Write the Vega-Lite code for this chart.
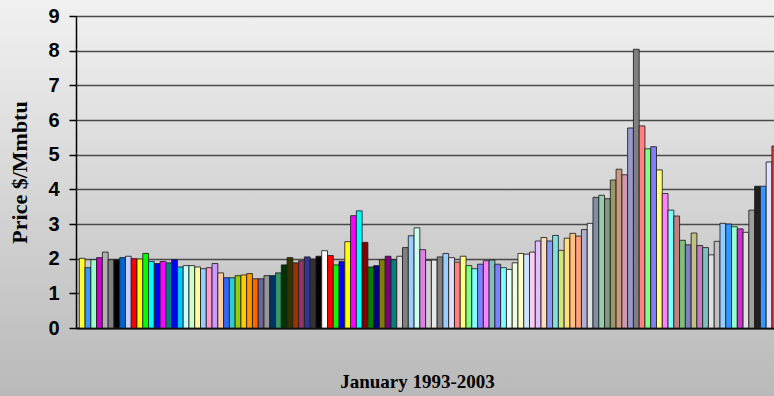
{
  "$schema": "https://vega.github.io/schema/vega-lite/v6.json",
  "width": 774,
  "height": 396,
  "autosize": "none",
  "padding": 0,
  "background": "#d4d4d4",
  "config": {
    "view": {
      "stroke": null,
      "fill": {"gradient": "linear", "x1": 0, "y1": 0, "x2": 0, "y2": 1,
        "stops": [{"offset": 0, "color": "#f1f1f1"}, {"offset": 1, "color": "#b9b9b9"}]}
    }
  },
  "data": {"values": [
    {"m":"1993-01","p":2.01},{"m":"1993-02","p":1.74},{"m":"1993-03","p":1.97},{"m":"1993-04","p":2.03},{"m":"1993-05","p":2.19},{"m":"1993-06","p":1.97},{"m":"1993-07","p":1.97},{"m":"1993-08","p":2.03},{"m":"1993-09","p":2.07},{"m":"1993-10","p":2.00},{"m":"1993-11","p":1.99},{"m":"1993-12","p":2.15},
    {"m":"1994-01","p":1.92},{"m":"1994-02","p":1.86},{"m":"1994-03","p":1.92},{"m":"1994-04","p":1.88},{"m":"1994-05","p":1.97},{"m":"1994-06","p":1.76},{"m":"1994-07","p":1.80},{"m":"1994-08","p":1.80},{"m":"1994-09","p":1.76},{"m":"1994-10","p":1.71},{"m":"1994-11","p":1.74},{"m":"1994-12","p":1.86},
    {"m":"1995-01","p":1.59},{"m":"1995-02","p":1.45},{"m":"1995-03","p":1.45},{"m":"1995-04","p":1.51},{"m":"1995-05","p":1.53},{"m":"1995-06","p":1.57},{"m":"1995-07","p":1.42},{"m":"1995-08","p":1.42},{"m":"1995-09","p":1.51},{"m":"1995-10","p":1.51},{"m":"1995-11","p":1.59},{"m":"1995-12","p":1.82},
    {"m":"1996-01","p":2.03},{"m":"1996-02","p":1.88},{"m":"1996-03","p":1.94},{"m":"1996-04","p":2.05},{"m":"1996-05","p":1.99},{"m":"1996-06","p":2.07},{"m":"1996-07","p":2.23},{"m":"1996-08","p":2.09},{"m":"1996-09","p":1.82},{"m":"1996-10","p":1.92},{"m":"1996-11","p":2.49},{"m":"1996-12","p":3.24},
    {"m":"1997-01","p":3.38},{"m":"1997-02","p":2.47},{"m":"1997-03","p":1.76},{"m":"1997-04","p":1.80},{"m":"1997-05","p":1.97},{"m":"1997-06","p":2.07},{"m":"1997-07","p":1.97},{"m":"1997-08","p":2.07},{"m":"1997-09","p":2.32},{"m":"1997-10","p":2.66},{"m":"1997-11","p":2.89},{"m":"1997-12","p":2.26},
    {"m":"1998-01","p":1.95},{"m":"1998-02","p":1.96},{"m":"1998-03","p":2.05},{"m":"1998-04","p":2.15},{"m":"1998-05","p":2.03},{"m":"1998-06","p":1.90},{"m":"1998-07","p":2.07},{"m":"1998-08","p":1.80},{"m":"1998-09","p":1.71},{"m":"1998-10","p":1.84},{"m":"1998-11","p":1.94},{"m":"1998-12","p":1.96},
    {"m":"1999-01","p":1.84},{"m":"1999-02","p":1.74},{"m":"1999-03","p":1.69},{"m":"1999-04","p":1.88},{"m":"1999-05","p":2.15},{"m":"1999-06","p":2.13},{"m":"1999-07","p":2.19},{"m":"1999-08","p":2.51},{"m":"1999-09","p":2.61},{"m":"1999-10","p":2.51},{"m":"1999-11","p":2.67},{"m":"1999-12","p":2.24},
    {"m":"2000-01","p":2.59},{"m":"2000-02","p":2.73},{"m":"2000-03","p":2.65},{"m":"2000-04","p":2.84},{"m":"2000-05","p":3.02},{"m":"2000-06","p":3.77},{"m":"2000-07","p":3.83},{"m":"2000-08","p":3.73},{"m":"2000-09","p":4.27},{"m":"2000-10","p":4.58},{"m":"2000-11","p":4.42},{"m":"2000-12","p":5.77},
    {"m":"2001-01","p":8.04},{"m":"2001-02","p":5.83},{"m":"2001-03","p":5.17},{"m":"2001-04","p":5.23},{"m":"2001-05","p":4.56},{"m":"2001-06","p":3.88},{"m":"2001-07","p":3.40},{"m":"2001-08","p":3.23},{"m":"2001-09","p":2.53},{"m":"2001-10","p":2.40},{"m":"2001-11","p":2.74},{"m":"2001-12","p":2.38},
    {"m":"2002-01","p":2.32},{"m":"2002-02","p":2.11},{"m":"2002-03","p":2.50},{"m":"2002-04","p":3.02},{"m":"2002-05","p":3.00},{"m":"2002-06","p":2.92},{"m":"2002-07","p":2.86},{"m":"2002-08","p":2.76},{"m":"2002-09","p":3.40},{"m":"2002-10","p":4.09},{"m":"2002-11","p":4.09},{"m":"2002-12","p":4.79},
    {"m":"2003-01","p":5.25}
  ]},
  "mark": {"type": "bar", "stroke": "#1e1e1e", "strokeWidth": 1, "strokeOpacity": 0.85},
  "encoding": {
    "x": {
      "field": "m", "type": "ordinal",
      "scale": {"range": [76, 781], "paddingInner": 0, "paddingOuter": 0.57},
      "axis": {
        "orient": "bottom", "offset": -68, "labels": false, "ticks": false, "grid": false,
        "domain": true, "domainColor": "#000000", "domainWidth": 2,
        "title": "January 1993-2003", "titleFont": "Liberation Serif", "titleFontWeight": "bold",
        "titleFontSize": 19, "titleColor": "#000000", "titleX": 417, "titlePadding": 44
      }
    },
    "y": {
      "field": "p", "type": "quantitative",
      "scale": {"domain": [0, 9], "range": [328, 16], "nice": false, "zero": true},
      "axis": {
        "orient": "left", "offset": -76, "values": [0,1,2,3,4,5,6,7,8,9],
        "tickSize": 7, "tickColor": "#000000", "tickWidth": 1.5,
        "domain": true, "domainColor": "#000000", "domainWidth": 1.5,
        "labelFont": "Liberation Sans", "labelFontWeight": "bold", "labelFontSize": 20,
        "labelColor": "#000000", "labelPadding": 10,
        "grid": true, "gridColor": "#4a4a4a", "gridWidth": 1.5,
        "title": "Price $/Mmbtu", "titleFont": "Liberation Serif", "titleFontWeight": "bold",
        "titleFontSize": 22, "titleColor": "#000000", "titlePadding": 16
      }
    },
    "color": {
      "field": "m", "type": "nominal", "legend": null,
      "scale": {"range": [
        "#FFFF33","#3399FF","#99FFCC","#CC00CC","#B0B0B0","#808080","#000000","#0066CC","#CCCCFF","#FF0000","#FFFF00","#00FF00",
        "#00FFFF","#0000FF","#FF00FF","#008080","#0000FF","#00CCFF","#CCFFFF","#CCFFCC","#FFFF99","#99CCFF","#FF99CC","#CC99FF",
        "#FFCC99","#3366FF","#33CCCC","#99CC00","#FFCC00","#FF9900","#FF6600","#666699","#969696","#003366","#339966","#003300",
        "#333300","#993300","#993366","#333399","#333333","#000000","#FFFFFF","#FF0000","#00FF00","#0000FF","#FFFF00","#FF00FF",
        "#00FFFF","#800000","#008000","#000080","#808000","#800080","#008080","#D8D8D8","#808080","#99CCFF","#CCFFEE","#E080E0",
        "#D0D0D0","#E8E8E8","#808080","#99CCFF","#E0E0FF","#FF8080","#FFFF80","#80FF80","#80FFFF","#8080FF","#FF80FF","#80C0C0",
        "#8080FF","#80FFFF","#E8FFFF","#EEFFDD","#FFFFCC","#CCE6FF","#FFCCEE","#E0C0FF","#FFDDBB","#8899FF","#80E0E0","#CCE680",
        "#FFDD80","#FFC080","#FFA080","#B0B0D0","#E0E0E0","#7F8FA6","#99CCAA","#809980","#999966","#CC9980","#CC99AA","#9999CC",
        "#808080","#FF8080","#80FF80","#8080FF","#FFFF80","#FF80FF","#80FFFF","#C08080","#80C080","#8080C0","#C0C080","#C080C0",
        "#80C0C0","#E0E0E0","#C0C0C0","#99CCFF","#3399FF","#99FFCC","#CC33CC","#E0E0E0","#A0A0A0","#202020","#3399FF","#E0E0FF",
        "#FF3333"
      ]}
    }
  }
}
